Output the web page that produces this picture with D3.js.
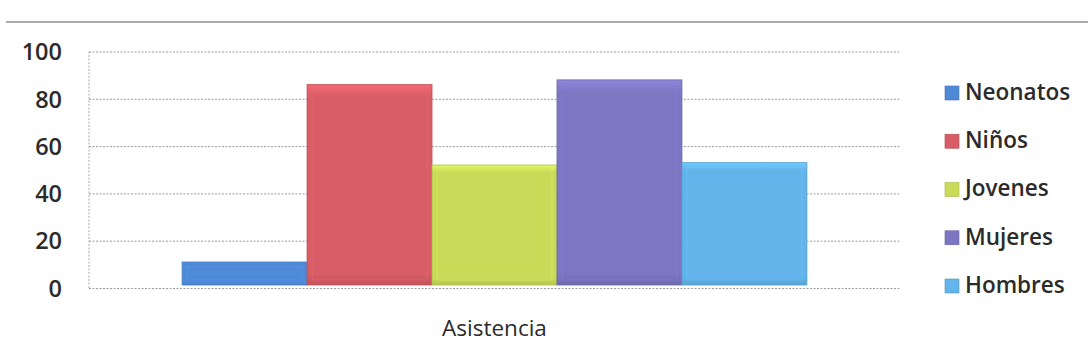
<!DOCTYPE html>
<html><head><meta charset="utf-8">
<script src="https://cdn.jsdelivr.net/npm/d3@7"></script>
<style>
html,body{margin:0;padding:0;background:#fff;}
svg{display:block;}
text{font-family:"Open Sans","DejaVu Sans",sans-serif;fill:#2b2b2b;}
</style></head>
<body>
<svg id="chart" width="1088" height="364"></svg>
<script>
const categories = ["Asistencia"];
const seriesNames = ["Neonatos","Niños","Jovenes","Mujeres","Hombres"];
const seriesValues = [11, 86, 52, 88, 53];
const seriesColors = ["#4f8ad9","#d85d66","#c8db58","#7d76c3","#62b4ea"];
const yTicks = [0,20,40,60,80,100];

const svg = d3.select("#chart");
const plot = {left:89, right:900, top:51.5, bottom:288};

const y = d3.scaleLinear().domain([0,100]).range([plot.bottom, plot.top]);
const x0 = d3.scaleBand().domain(categories).range([plot.left, plot.right]).paddingInner(0).paddingOuter(0.149);
const x1 = d3.scaleBand().domain(seriesNames).range([0, x0.bandwidth()]).padding(0);

// top rule
svg.append("line").attr("x1",6).attr("x2",1088).attr("y1",22).attr("y2",22)
  .attr("stroke","#8f8f8f").attr("stroke-width",1.6);

// gridlines
const grid = svg.append("g").attr("transform",`translate(${plot.left},0)`)
  .call(d3.axisLeft(y).tickValues(yTicks).tickSize(-(plot.right-plot.left)).tickFormat(""));
grid.select(".domain").remove();
grid.selectAll(".tick line").attr("stroke","#9c9c9c").attr("stroke-dasharray","2,1.5").attr("stroke-width",1);
// left axis line
svg.append("line").attr("x1",plot.left).attr("x2",plot.left).attr("y1",plot.top).attr("y2",plot.bottom)
  .attr("stroke","#a8a8a8").attr("stroke-dasharray","2,1.5");

// tick labels
const yAxis = svg.append("g").attr("transform",`translate(${plot.left},0)`)
  .call(d3.axisLeft(y).tickValues(yTicks).tickSize(0).tickPadding(27));
yAxis.select(".domain").remove();
yAxis.selectAll("text").attr("font-size","23.5px").attr("font-weight","600")
  .style("font-family","'Open Sans',sans-serif").attr("fill","#2b2b2b").attr("dy","0.35em");

// defs for gradients
const defs = svg.append("defs");
seriesNames.forEach((s,i)=>{
  const c = d3.color(seriesColors[i]);
  const g = defs.append("linearGradient").attr("id","g"+i).attr("x1",0).attr("x2",0).attr("y1",0).attr("y2",1);
  g.append("stop").attr("offset","0%").attr("stop-color",c.brighter(0.35));
  g.append("stop").attr("offset","6%").attr("stop-color",c);
  g.append("stop").attr("offset","94%").attr("stop-color",c);
  g.append("stop").attr("offset","100%").attr("stop-color",c.darker(0.3));
});

// bars
const bars = svg.append("g").attr("transform",`translate(${x0(categories[0])},0)`);
bars.selectAll("rect").data(seriesValues).join("rect")
  .attr("x",(d,i)=>x1(seriesNames[i]))
  .attr("y",d=>y(d))
  .attr("width",x1.bandwidth())
  .attr("height",d=>y(0)-y(d)-3)
  .attr("fill",(d,i)=>`url(#g${i})`)
  .attr("stroke",(d,i)=>d3.color(seriesColors[i]).darker(0.4))
  .attr("stroke-width",0.8);
// bevel highlights
bars.selectAll("rect.hl").data(seriesValues).join("rect").attr("class","hl")
  .attr("x",(d,i)=>x1(seriesNames[i])+5)
  .attr("y",d=>y(d)+5)
  .attr("width",x1.bandwidth()-10)
  .attr("height",d=>Math.max(0,y(0)-y(d)-13))
  .attr("fill","none")
  .attr("stroke",(d,i)=>d3.color(seriesColors[i]).brighter(0.25))
  .attr("stroke-opacity",0.6).attr("stroke-width",1);

// category label
svg.append("text").attr("x",x0(categories[0])+x0.bandwidth()/2).attr("y",336)
  .attr("text-anchor","middle").attr("font-size","22.5px").attr("font-weight","500")
  .text(categories[0]);

// legend
const legend = svg.append("g");
const legY = d3.scalePoint().domain(seriesNames).range([92, 285]);
seriesNames.forEach((s,i)=>{
  const gy = legY(s);
  legend.append("rect").attr("x",945).attr("y",gy-6).attr("width",14).attr("height",14)
    .attr("fill",seriesColors[i]).attr("stroke",d3.color(seriesColors[i]).darker(0.5)).attr("stroke-width",0.6);
  legend.append("text").attr("x",965).attr("y",gy).attr("dy","0.35em")
    .attr("font-size","22.5px").attr("font-weight","600").text(s);
});
</script>
</body></html>
